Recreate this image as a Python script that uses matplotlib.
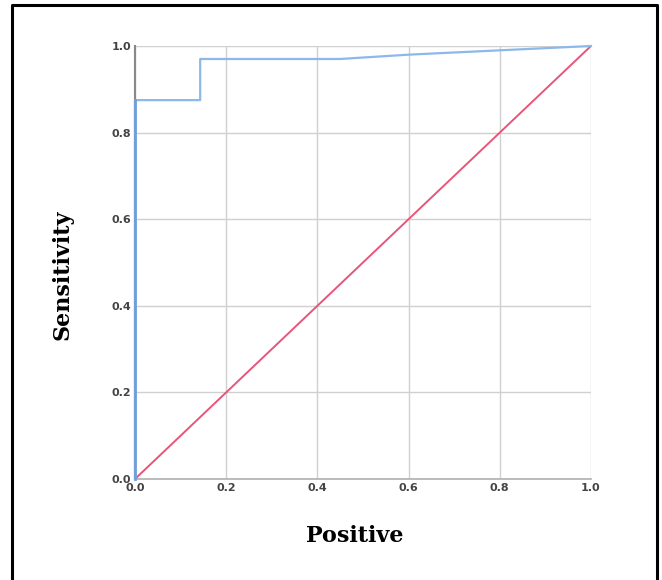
import matplotlib.pyplot as plt
from matplotlib.lines import Line2D

# ROC curve points (1 - specificity, sensitivity)
fpr = [0.0, 0.0, 0.143, 0.143, 0.30, 0.45, 0.60, 0.80, 1.0]
tpr = [0.0, 0.875, 0.875, 0.97, 0.97, 0.97, 0.98, 0.99, 1.0]
ref = [0.0, 1.0]
ticks = [0.0, 0.2, 0.4, 0.6, 0.8, 1.0]
tick_labels = ['0.0', '0.2', '0.4', '0.6', '0.8', '1.0']

fig = plt.figure(figsize=(6.62, 5.8), dpi=100)
ax = fig.add_axes([0.2039, 0.1741, 0.6888, 0.7466])

ax.plot(ref, ref, color='#e8557a', lw=1.4, zorder=3)
ax.plot(fpr, tpr, color='#8cb8ea', lw=1.6, zorder=4, clip_on=False)
ax.plot([0, 0], [0, 0.875], color='#6f9fd8', lw=2.0, zorder=5, clip_on=False)

ax.set_xlim(0, 1)
ax.set_ylim(0, 1)
ax.set_xticks(ticks)
ax.set_yticks(ticks)
ax.set_xticklabels(tick_labels)
ax.set_yticklabels(tick_labels)
ax.tick_params(length=0, labelsize=8, labelcolor='#444444', pad=3)
for lab in ax.get_xticklabels() + ax.get_yticklabels():
    lab.set_fontweight('bold')
ax.grid(True, color='#d0d0d0', lw=1.0)
ax.set_axisbelow(True)
for s in ['top', 'right']:
    ax.spines[s].set_visible(False)
ax.spines['left'].set_color('#888888')
ax.spines['left'].set_linewidth(1.5)
ax.spines['bottom'].set_color('#b0b0b0')
ax.spines['bottom'].set_linewidth(1.2)

fig.text(0.536, 0.076, 'Positive', fontsize=16, fontweight='bold',
         family='DejaVu Serif', ha='center', va='center')
fig.text(0.094, 0.526, 'Sensitivity', fontsize=16, fontweight='bold',
         family='DejaVu Serif', ha='center', va='center', rotation=90)

# outer frame (open at the bottom)
fig.add_artist(Line2D([12 / 662, 12 / 662, 657 / 662, 657 / 662],
                      [0, 1 - 4.5 / 580, 1 - 4.5 / 580, 0],
                      transform=fig.transFigure, color='black', lw=2.2))

fig.savefig('out.png', dpi=100)
